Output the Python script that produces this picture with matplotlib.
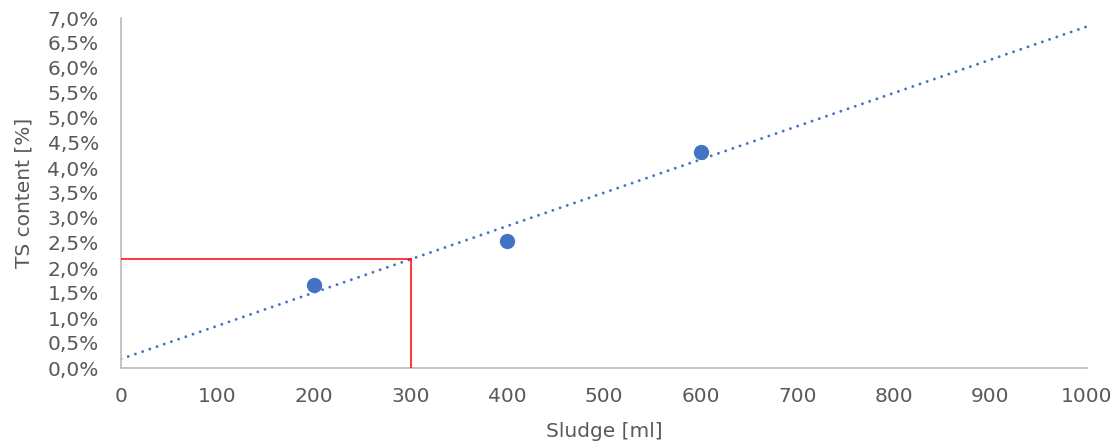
import numpy as np
import matplotlib
matplotlib.use("Agg")
import matplotlib.pyplot as plt
from matplotlib.ticker import FuncFormatter, MultipleLocator

# Measured sludge volume vs. total solids content
sludge_ml = [200, 400, 600]
ts_content = [0.0166, 0.0254, 0.0432]

# Sludge volume
read_ml = 300

x_limits = (0, 1000)
y_limits = (0, 0.07)

blue = "#4472C4"
grey_text = "#595959"
grey_axis = "#BFBFBF"

plt.rcParams["font.family"] = ["DejaVu Sans"]

fig = plt.figure(figsize=(11.2, 4.45), dpi=100)
ax = fig.add_axes([121 / 1120, (445 - 368) / 445, (1087 - 121) / 1120, 350 / 445])

# Linear trend over the whole x range
slope, intercept = np.polyfit(sludge_ml, ts_content, 1)
xs = np.array(x_limits, dtype=float)
ax.plot(xs, slope * xs + intercept, color=blue, lw=2.1,
        linestyle=(0, (0.01, 2.6)), dash_capstyle="round", zorder=2)

ax.plot(sludge_ml, ts_content, "o", color=blue, markersize=11,
        markeredgewidth=0, zorder=3)

# Reading guide at the chosen volume
read_ts = slope * read_ml + intercept
ax.plot([read_ml, read_ml], [0, read_ts], color="red", lw=1.1, zorder=4)
ax.plot([0, read_ml], [read_ts, read_ts], color="red", lw=1.1, zorder=4)

ax.set_xlim(*x_limits)
ax.set_ylim(*y_limits)
ax.xaxis.set_major_locator(MultipleLocator(100))
ax.yaxis.set_major_locator(MultipleLocator(0.005))
ax.yaxis.set_major_formatter(FuncFormatter(lambda v, _: f"{v * 100:.1f}%".replace(".", ",")))

for side in ("top", "right"):
    ax.spines[side].set_visible(False)
for side in ("left", "bottom"):
    ax.spines[side].set_color(grey_axis)
    ax.spines[side].set_linewidth(1.3)

ax.tick_params(length=0, labelsize=14.5, colors=grey_text)
ax.tick_params(axis="y", pad=16)
ax.tick_params(axis="x", pad=14)

ax.set_xlabel("Sludge [ml]", fontsize=14.5, color=grey_text, labelpad=11)
ax.set_ylabel("TS content [%]", fontsize=14.5, color=grey_text, labelpad=10)

fig.savefig("out.png", dpi=100)
